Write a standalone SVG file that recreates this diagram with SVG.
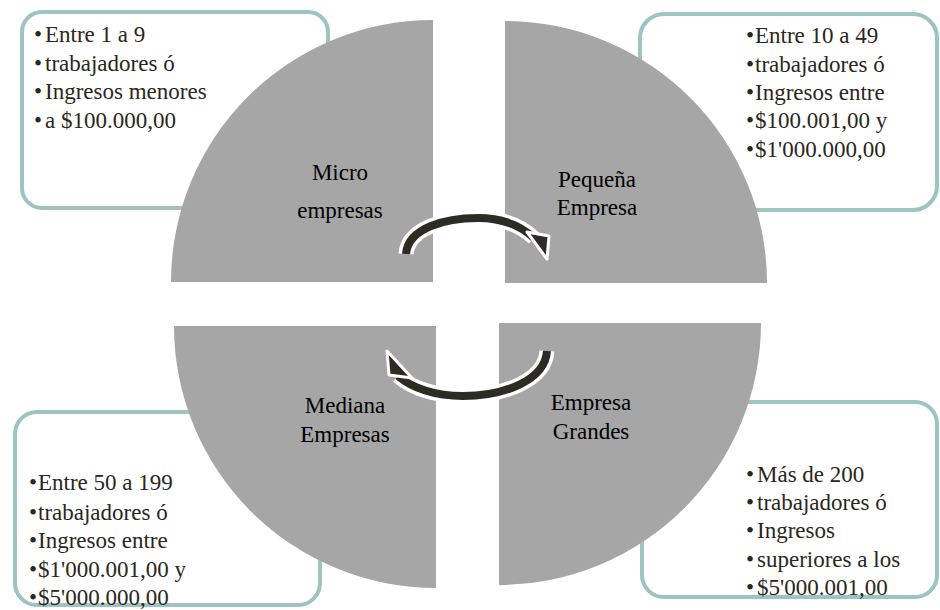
<svg xmlns="http://www.w3.org/2000/svg" width="940" height="610" viewBox="0 0 940 610">
<style>
.box{fill:#fff;stroke:#9DC3C2;stroke-width:4}
.q{fill:#A6A6A6}
.t{font-family:"Times New Roman","Liberation Serif",Tinos,serif;font-size:23px;fill:#2B2620}
.c{font-family:"Liberation Serif","DejaVu Serif",serif;font-size:23px;fill:#000;text-anchor:middle}
.halo{fill:none;stroke:#fff;stroke-width:15;stroke-linecap:butt}
.shaft{fill:none;stroke:#2E2A24;stroke-width:8;stroke-linecap:butt}
.head{fill:#2E2A24;stroke:#fff;stroke-width:3;stroke-linejoin:round}
</style>
<rect width="940" height="610" fill="#fff"/>
<g id="box-micro"><rect class="box" x="22" y="12" width="306" height="196" rx="20"/>
<text class="t"><tspan x="34" y="42">•</tspan><tspan x="45" y="42">Entre 1 a 9</tspan></text>
<text class="t"><tspan x="34" y="71">•</tspan><tspan x="45" y="71">trabajadores ó</tspan></text>
<text class="t"><tspan x="34" y="99">•</tspan><tspan x="45" y="99">Ingresos menores</tspan></text>
<text class="t"><tspan x="34" y="128">•</tspan><tspan x="45" y="128">a $100.000,00</tspan></text>
</g>
<g id="box-pequena"><rect class="box" x="640" y="14" width="297" height="196" rx="24"/>
<text class="t"><tspan x="746" y="43">•</tspan><tspan x="755" y="43">Entre 10 a 49</tspan></text>
<text class="t"><tspan x="746" y="72">•</tspan><tspan x="755" y="72">trabajadores ó</tspan></text>
<text class="t"><tspan x="746" y="100">•</tspan><tspan x="755" y="100">Ingresos entre</tspan></text>
<text class="t"><tspan x="746" y="128">•</tspan><tspan x="755" y="128">$100.001,00 y</tspan></text>
<text class="t"><tspan x="746" y="157">•</tspan><tspan x="755" y="157">$1'000.000,00</tspan></text>
</g>
<g id="box-mediana"><rect class="box" x="15" y="412" width="305" height="193" rx="22"/></g>
<g id="box-grandes"><rect class="box" x="642" y="402" width="295" height="195" rx="22"/></g>
<g id="node-micro"><path class="q" d="M433 282 L171 282 A262 262 0 0 1 433 20 Z"/>
<text class="c" x="340" y="180">Micro</text><text class="c" x="340" y="218">empresas</text></g>
<g id="node-pequena"><path class="q" d="M505 283 L505 21 A262 262 0 0 1 767 283 Z"/>
<text class="c" x="597" y="187">Pequeña</text><text class="c" x="597" y="215">Empresa</text></g>
<g id="node-mediana"><path class="q" d="M436 326 L436 588 A262 262 0 0 1 174 326 Z"/>
<text class="c" x="345" y="413">Mediana</text><text class="c" x="345" y="442">Empresas</text></g>
<g id="node-grandes"><path class="q" d="M499 323 L761 323 A262 262 0 0 1 499 585 Z"/>
<text class="c" x="591" y="410">Empresa</text><text class="c" x="591" y="439">Grandes</text></g>
<g id="box-text-bottom">
<text class="t"><tspan x="29" y="490">•</tspan><tspan x="38" y="490">Entre 50 a 199</tspan></text>
<text class="t"><tspan x="29" y="520">•</tspan><tspan x="38" y="520">trabajadores ó</tspan></text>
<text class="t"><tspan x="29" y="548">•</tspan><tspan x="38" y="548">Ingresos entre</tspan></text>
<text class="t"><tspan x="29" y="577">•</tspan><tspan x="38" y="577">$1'000.001,00 y</tspan></text>
<text class="t"><tspan x="29" y="605">•</tspan><tspan x="38" y="605">$5'000.000,00</tspan></text>
<text class="t"><tspan x="746" y="482">•</tspan><tspan x="757" y="482">Más de 200</tspan></text>
<text class="t"><tspan x="746" y="510">•</tspan><tspan x="757" y="510">trabajadores ó</tspan></text>
<text class="t"><tspan x="746" y="538">•</tspan><tspan x="757" y="538">Ingresos</tspan></text>
<text class="t"><tspan x="746" y="567">•</tspan><tspan x="757" y="567">superiores a los</tspan></text>
<text class="t"><tspan x="746" y="595">•</tspan><tspan x="757" y="595">$5'000.001,00</tspan></text>
</g>
<g id="connectors">
<path class="halo" d="M406 254 C408 228 445 218 478 218 C505 218 522 227 534 238"/>
<path class="shaft" d="M406 254 C408 228 445 218 478 218 C505 218 522 227 534 238"/>
<polygon class="head" points="527,232 549,236 547,259"/>
<path class="halo" d="M547 351 C545 380 505 396 463 396 C435 396 412 388 398 376"/>
<path class="shaft" d="M547 351 C545 380 505 396 463 396 C435 396 412 388 398 376"/>
<polygon class="head" points="387,351 389,375 412,378"/>
</g>
</svg>
